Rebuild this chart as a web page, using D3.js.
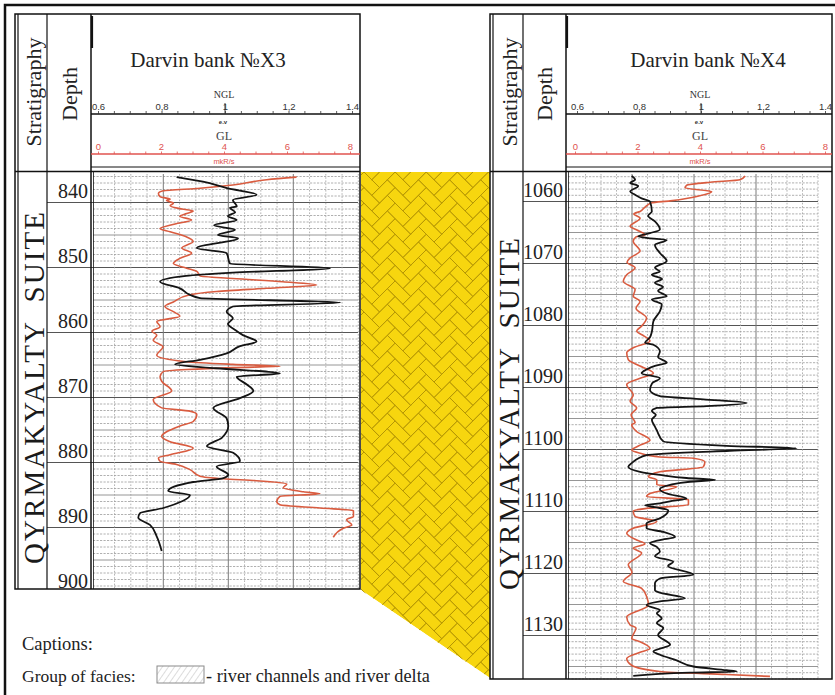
<!DOCTYPE html>
<html>
<head>
<meta charset="utf-8">
<script src="https://cdn.jsdelivr.net/npm/d3@7"></script>
<style>
  html, body { margin: 0; padding: 0; background: #fff; }
  svg { display: block; }
</style>
</head>
<body>
<svg id="chart" width="835" height="695"></svg>
<script>
// ---------------- data ----------------
// Well Darvin bank X3: NGL (conventional units) and GL (mkR/s) against depth, m
const x3Title = "Darvin bank №X3";
const x3DepthTicks = [840, 850, 860, 870, 880, 890, 900];
const x3NglDepth = [836.1,836.8,837.8,838.8,839.6,840.6,840.8,841.5,842.1,842.7,843.5,844.2,845.0,845.5,847.0,847.8,849.4,850.1,850.8,851.3,852.2,853.2,854.2,854.7,855.4,856.0,856.8,857.8,858.7,859.6,860.4,861.4,862.1,863.2,864.2,864.9,865.5,866.3,866.8,868.0,869.0,870.1,871.6,873.2,874.4,876.2,877.5,878.5,879.8,880.6,881.9,882.4,883.0,884.4,885.0,886.5,887.0,887.8,888.5,889.6,891.4,893.6];
const x3NglValue = [0.841,0.922,0.996,1.087,1.014,1.026,1.005,1.021,0.999,1.026,0.956,1.021,0.968,1.030,0.903,0.995,1.005,1.313,1.014,0.870,0.790,0.851,0.882,0.913,1.344,1.014,0.995,1.014,0.999,1.021,1.045,1.087,1.036,0.995,0.913,0.836,0.962,1.159,1.026,1.057,1.077,1.036,0.954,0.995,1.000,0.980,0.934,1.015,1.036,0.964,1.000,0.985,0.892,0.815,0.882,0.831,0.800,0.728,0.723,0.759,0.780,0.795];
const x3GlDepth = [836.1,836.5,837.3,837.8,838.2,838.6,839.1,839.5,839.7,840.1,840.5,841.0,841.3,841.7,842.1,842.7,843.3,844.0,844.5,845.3,846.0,847.0,847.8,848.6,849.4,850.1,850.6,851.3,851.7,852.2,852.7,853.2,853.7,854.2,855.3,856.0,856.8,857.5,858.3,859.1,859.8,860.4,861.2,862.2,863.5,864.5,864.9,865.2,865.4,865.7,866.0,866.8,867.5,869.0,870.3,871.6,872.1,872.6,873.7,874.4,876.0,876.8,877.8,878.8,879.3,879.8,880.3,881.1,882.1,882.5,882.8,883.3,883.9,884.5,884.8,885.2,886.0,886.5,887.0,887.4,888.3,888.8,889.6,890.1,891.5];
const x3GlValue = [6.10,5.18,4.14,3.13,2.00,1.85,1.90,2.21,2.10,2.31,2.21,2.57,2.92,2.72,2.51,2.87,2.36,1.90,2.21,2.72,2.92,2.57,2.87,2.51,2.31,2.72,3.03,3.13,4.14,5.68,6.72,5.18,3.64,2.82,2.31,2.05,2.31,2.51,1.80,1.90,1.65,1.80,1.69,1.99,1.80,2.72,4.14,5.59,4.14,2.72,2.00,1.90,1.95,2.26,1.69,1.95,2.82,3.03,2.92,2.51,1.95,2.21,2.92,2.21,1.85,1.90,2.41,2.82,3.13,3.85,4.87,5.80,5.69,6.31,6.82,5.59,5.49,5.59,6.82,7.85,7.85,7.64,7.80,7.54,7.23];

// Well Darvin bank X4
const x4Title = "Darvin bank №X4";
const x4DepthTicks = [1060, 1070, 1080, 1090, 1100, 1110, 1120, 1130];
const x4NglDepth = [1055.9,1056.5,1057.0,1057.5,1058.4,1058.9,1059.5,1060.0,1061.6,1062.3,1063.2,1064.5,1065.1,1065.6,1065.9,1066.2,1067.0,1068.3,1069.6,1070.7,1071.3,1071.8,1072.5,1073.1,1073.8,1074.4,1075.3,1075.8,1076.6,1077.7,1079.3,1081.0,1081.9,1082.8,1083.1,1084.2,1085.1,1086.0,1086.5,1087.1,1087.7,1088.5,1089.3,1090.4,1091.4,1091.9,1092.5,1093.0,1093.3,1093.8,1094.4,1095.2,1096.3,1096.9,1098.7,1099.4,1099.8,1100.2,1100.9,1102.2,1102.8,1103.6,1104.1,1104.6,1104.9,1105.2,1105.7,1106.4,1107.1,1107.9,1108.3,1108.7,1109.0,1109.3,1109.8,1111.1,1111.9,1112.7,1113.3,1114.1,1114.6,1115.1,1115.7,1116.5,1117.2,1118.1,1118.8,1120.2,1120.8,1121.6,1122.7,1123.1,1124.0,1124.5,1125.1,1125.9,1126.4,1127.2,1128.0,1128.8,1129.9,1131.5,1132.6,1133.1,1134.0,1135.0,1135.6,1135.8,1136.0,1136.5];
const x4NglValue = [0.799,0.810,0.794,0.820,0.794,0.810,0.831,0.858,0.864,0.852,0.874,0.890,0.858,0.820,0.853,0.912,0.874,0.890,0.912,0.874,0.890,0.864,0.897,0.874,0.900,0.884,0.912,0.864,0.896,0.890,0.869,0.864,0.858,0.842,0.869,0.890,0.884,0.912,0.874,0.847,0.831,0.890,0.865,0.858,0.890,1.030,1.170,1.041,0.880,0.864,0.877,0.864,0.874,0.880,0.901,1.105,1.331,1.116,0.847,0.799,0.788,0.826,0.890,0.976,1.068,0.987,0.923,0.890,0.912,0.976,0.929,0.890,0.842,0.874,0.917,0.890,0.847,0.847,0.901,0.939,0.890,0.858,0.880,0.890,0.874,0.933,0.916,0.998,0.890,0.874,0.874,0.890,0.971,0.890,0.847,0.890,0.880,0.896,0.880,0.901,0.884,0.923,0.869,0.890,0.944,0.998,1.105,1.138,0.987,0.804];
const x4GlDepth = [1055.9,1056.5,1056.9,1057.4,1057.8,1058.4,1059.3,1059.9,1060.2,1060.9,1061.6,1062.0,1062.7,1064.0,1064.6,1065.4,1065.7,1066.4,1068.0,1069.1,1069.8,1070.7,1071.8,1072.9,1074.2,1075.3,1076.1,1077.2,1078.8,1080.1,1080.9,1081.7,1082.5,1083.6,1084.4,1085.5,1086.3,1087.7,1088.5,1089.5,1091.2,1092.2,1093.3,1094.4,1095.7,1096.0,1097.1,1098.5,1099.3,1100.1,1100.6,1101.2,1101.4,1102.0,1102.8,1103.6,1104.4,1104.9,1105.7,1106.0,1107.1,1107.6,1108.1,1108.9,1109.5,1109.9,1110.8,1111.6,1112.7,1113.5,1114.6,1115.2,1115.9,1116.7,1118.6,1119.8,1121.3,1122.4,1123.7,1125.1,1127.0,1128.3,1128.8,1130.5,1131.0,1132.1,1132.7,1133.7,1134.8,1135.8,1136.3,1136.6];
const x4GlValue = [5.65,5.48,4.52,3.76,3.71,4.57,3.98,3.23,2.64,2.42,2.26,2.06,2.26,1.94,2.16,2.42,2.13,2.04,2.26,1.94,1.84,2.10,1.83,1.72,2.10,2.04,2.26,2.13,2.47,2.31,2.15,2.39,2.58,2.04,1.83,1.88,2.15,2.69,2.26,1.83,2.04,1.94,2.15,1.97,2.10,1.99,2.15,2.58,2.26,1.99,2.26,2.90,3.98,4.35,4.30,2.90,2.53,2.80,2.80,3.44,2.58,2.47,3.82,3.82,2.47,2.04,2.10,2.80,2.04,1.83,2.15,2.42,2.04,2.31,1.88,2.00,1.72,2.31,2.47,2.53,1.83,1.94,2.13,1.99,2.26,2.58,2.26,1.83,1.99,2.90,5.05,6.45];

// Scale labels shared by both tracks
const nglTickValues = [0.6, 0.8, 1.0, 1.2, 1.4];
const nglTickLabels = ["0.6", "0,8", "1", "1,2", "1.4"];
const glTickValues = [0, 2, 4, 6, 8];
const glTickLabels = ["0", "2", "4", "6", "8"];
const stratName = "QYRMAKYALTY  SUITE";

// ---------------- layout ----------------
const serif = "'Liberation Serif','Times New Roman',serif";
const sans = "'Liberation Sans',Arial,sans-serif";
const blackCurve = "#141414";
const redCurve = "#d95c40";
const redAxis = "#e0534f";

const svg = d3.select("#chart");
svg.append("rect").attr("width", 835).attr("height", 695).attr("fill", "#fff");
const defs = svg.append("defs");

const panels = [
  {
    title: x3Title, ticks: x3DepthTicks,
    ngl: { d: x3NglDepth, v: x3NglValue }, gl: { d: x3GlDepth, v: x3GlValue },
    left: 15, stratR: 47, depthR: 91, right: 360, top: 14, bodyTop: 172, bottom: 589,
    refDepth: 840, refY: 202.5, pxPerM: 6.5,
    grid: [98.3, 358.3], gridSpan: [93, 358],
    head: [98, 352], glHead: [98, 350],
    stratY: 388, headCx: 208
  },
  {
    title: x4Title, ticks: x4DepthTicks,
    ngl: { d: x4NglDepth, v: x4NglValue }, gl: { d: x4GlDepth, v: x4GlValue },
    left: 490, stratR: 523, depthR: 566, right: 832, top: 14, bodyTop: 172, bottom: 679,
    refDepth: 1060, refY: 201.5, pxPerM: 6.2,
    grid: [570, 818], gridSpan: [568, 818],
    head: [577, 825], glHead: [575, 825],
    stratY: 414, headCx: 708
  }
];

// ---------------- correlation band ----------------
const bandPts = [[361, 172], [490, 172], [490, 678], [361, 590]];
defs.append("clipPath").attr("id", "bandClip")
  .append("polygon").attr("points", bandPts.map(p => p.join(",")).join(" "));
const bandG = svg.append("g").attr("clip-path", "url(#bandClip)");
bandG.append("polygon").attr("points", bandPts.map(p => p.join(",")).join(" "))
  .attr("fill", "#f7d60f");
// herringbone bricks (2:1) laid at 45 degrees
const u = 11, th = Math.PI / 4;
const rot = ([a, b]) => [364 + u * (a * Math.cos(th) - b * Math.sin(th)),
                         172 + u * (a * Math.sin(th) + b * Math.cos(th))];
const bricks = [];
for (let j = -6; j <= 14; j++) {
  for (let k = -6; k <= 52; k++) {
    const ox = k + 2 * j, oy = k - 2 * j;
    bricks.push([[ox, oy], [ox + 2, oy], [ox + 2, oy + 1], [ox, oy + 1]]);
    bricks.push([[ox, oy + 1], [ox + 1, oy + 1], [ox + 1, oy + 3], [ox, oy + 3]]);
  }
}
bandG.selectAll("path.brick")
  .data(bricks.map(b => b.map(rot)).filter(b => {
    const cx = d3.mean(b, p => p[0]), cy = d3.mean(b, p => p[1]);
    return cx > 335 && cx < 515 && cy > 145 && cy < 705;
  }))
  .join("path").attr("class", "brick")
  .attr("d", b => "M" + b.map(p => p.join(",")).join("L") + "Z")
  .attr("fill", "none").attr("stroke", "#b39405").attr("stroke-width", 1).attr("stroke-opacity", 0.85);

// ---------------- panels ----------------
panels.forEach(P => {
  const g = svg.append("g");
  const d0 = P.refDepth - (P.refY - P.bodyTop) / P.pxPerM;
  const d1 = P.refDepth + (P.bottom - P.refY) / P.pxPerM;
  const y = d3.scaleLinear().domain([d0, d1]).range([P.bodyTop, P.bottom]);
  const xN = d3.scaleLinear().domain([0.6, 1.4]).range(P.grid);
  const xG = d3.scaleLinear().domain([0, 8]).range(P.grid);
  const xNh = d3.scaleLinear().domain([0.6, 1.4]).range(P.head);
  const xGh = d3.scaleLinear().domain([0, 8]).range(P.glHead);

  // --- grid: depth lines
  const grid = g.append("g");
  const metres = d3.range(Math.ceil(d0), Math.floor(d1) + 1);
  grid.selectAll("line.m1").data(metres.filter(m => m % 5 !== 0)).join("line")
    .attr("x1", P.gridSpan[0]).attr("x2", P.gridSpan[1])
    .attr("y1", d => y(d)).attr("y2", d => y(d))
    .attr("stroke", "#9c9c9c").attr("stroke-width", 0.8).attr("stroke-dasharray", "2.2,1.3");
  grid.selectAll("line.m5").data(metres.filter(m => m % 5 === 0 && m % 10 !== 0)).join("line")
    .attr("x1", P.gridSpan[0]).attr("x2", P.gridSpan[1])
    .attr("y1", d => y(d)).attr("y2", d => y(d))
    .attr("stroke", "#8a8a8a").attr("stroke-width", 0.9);
  grid.selectAll("line.m10").data(metres.filter(m => m % 10 === 0)).join("line")
    .attr("x1", P.stratR).attr("x2", P.gridSpan[1])
    .attr("y1", d => y(d)).attr("y2", d => y(d))
    .attr("stroke", "#555").attr("stroke-width", 1);

  // --- grid: value lines
  const vals = d3.range(0.65, 1.4001, 0.05).map(v => +v.toFixed(2));
  grid.selectAll("line.vminor").data(vals.filter(v => ![0.8, 1.0, 1.2].includes(v))).join("line")
    .attr("x1", d => xN(d)).attr("x2", d => xN(d))
    .attr("y1", P.bodyTop + 2).attr("y2", P.bottom - 1)
    .attr("stroke", "#a0a0a0").attr("stroke-width", 0.8).attr("stroke-dasharray", "1.6,1.6");
  grid.selectAll("line.vmajor").data([0.8, 1.0, 1.2]).join("line")
    .attr("x1", d => xN(d)).attr("x2", d => xN(d))
    .attr("y1", P.bodyTop + 2).attr("y2", P.bottom - 1)
    .attr("stroke", "#7a7a7a").attr("stroke-width", 1);

  // --- curves
  const glPts = P.gl.d.map((d, i) => [d, P.gl.v[i]]);
  const nglPts = P.ngl.d.map((d, i) => [d, P.ngl.v[i]]);
  g.append("path").datum(glPts)
    .attr("d", d3.line().x(p => xG(p[1])).y(p => y(p[0])).curve(d3.curveMonotoneY))
    .attr("fill", "none").attr("stroke", redCurve).attr("stroke-width", 1.6);
  g.append("path").datum(nglPts)
    .attr("d", d3.line().x(p => xN(p[1])).y(p => y(p[0])).curve(d3.curveMonotoneY))
    .attr("fill", "none").attr("stroke", blackCurve).attr("stroke-width", 1.8);

  // --- frame
  const fr = g.append("g").attr("fill", "none").attr("stroke", "#111");
  fr.append("rect").attr("x", P.left).attr("y", P.top)
    .attr("width", P.right - P.left).attr("height", P.bottom - P.top).attr("stroke-width", 1.5);
  fr.append("line").attr("x1", P.left + 3).attr("x2", P.left + 3).attr("y1", P.top).attr("y2", P.bottom).attr("stroke-width", 1.2);
  fr.append("line").attr("x1", P.stratR).attr("x2", P.stratR).attr("y1", P.top).attr("y2", P.bottom).attr("stroke-width", 1.2);
  fr.append("line").attr("x1", P.depthR).attr("x2", P.depthR).attr("y1", P.top).attr("y2", P.bottom).attr("stroke-width", 1.5);
  fr.append("line").attr("x1", P.depthR + 2.5).attr("x2", P.depthR + 2.5).attr("y1", P.bodyTop).attr("y2", P.bottom).attr("stroke-width", 0.8);
  fr.append("line").attr("x1", P.depthR + 1).attr("x2", P.depthR + 1).attr("y1", P.top + 2).attr("y2", P.top + 34).attr("stroke-width", 2.2);
  fr.append("line").attr("x1", P.left).attr("x2", P.right).attr("y1", P.bodyTop - 0.5).attr("y2", P.bodyTop - 0.5).attr("stroke-width", 1.4);
  fr.append("line").attr("x1", P.depthR).attr("x2", P.right).attr("y1", 167).attr("y2", 167).attr("stroke-width", 1);

  // --- header: NGL scale
  const hx = P.headCx;
  g.append("text").attr("x", hx).attr("y", 67).attr("text-anchor", "middle")
    .attr("font-family", serif).attr("font-size", 21).attr("fill", "#222").text(P.title);
  g.append("line").attr("x1", P.depthR).attr("x2", P.right).attr("y1", 114).attr("y2", 114)
    .attr("stroke", "#111").attr("stroke-width", 1.6);
  const nglAxis = d3.axisTop(xNh).tickValues(d3.range(0.6, 1.4001, 0.05).map(v => +v.toFixed(2)))
    .tickSize(3).tickFormat(v => {
      const i = nglTickValues.findIndex(t => Math.abs(t - v) < 1e-6);
      return i >= 0 ? nglTickLabels[i] : "";
    });
  const na = g.append("g").attr("transform", "translate(0,114)").call(nglAxis);
  na.select(".domain").remove();
  na.selectAll(".tick line").attr("stroke", "#333").attr("stroke-width", 0.8);
  na.selectAll(".tick text").attr("font-family", sans).attr("font-size", 9.5).attr("fill", "#333").attr("dy", "0.2em");
  g.append("line").attr("x1", xNh(1)).attr("x2", xNh(1)).attr("y1", 103).attr("y2", 114).attr("stroke", "#333").attr("stroke-width", 0.9);
  g.append("text").attr("x", xNh(1) - 1).attr("y", 98).attr("text-anchor", "middle")
    .attr("font-family", serif).attr("font-size", 10).attr("fill", "#333").text("NGL");
  g.append("text").attr("x", xNh(1) - 2).attr("y", 124).attr("text-anchor", "middle")
    .attr("font-family", sans).attr("font-weight", "bold").attr("font-size", 6).attr("fill", "#333").text("e.v");

  // --- header: GL scale
  g.append("text").attr("x", xNh(1) - 1).attr("y", 140).attr("text-anchor", "middle")
    .attr("font-family", serif).attr("font-size", 12).attr("fill", "#444").text("GL");
  g.append("line").attr("x1", P.depthR).attr("x2", P.right).attr("y1", 154).attr("y2", 154)
    .attr("stroke", redAxis).attr("stroke-width", 1.5);
  const glAxis = d3.axisTop(xGh).tickValues(d3.range(0, 8.01, 0.5)).tickSize(2.5)
    .tickFormat(v => {
      const i = glTickValues.indexOf(v);
      return i >= 0 ? glTickLabels[i] : "";
    });
  const ga = g.append("g").attr("transform", "translate(0,154)").call(glAxis);
  ga.select(".domain").remove();
  ga.selectAll(".tick line").attr("stroke", redAxis).attr("stroke-width", 0.8);
  ga.selectAll(".tick text").attr("font-family", sans).attr("font-size", 9.5).attr("fill", redAxis).attr("dy", "0.2em");
  g.append("text").attr("x", xGh(4)).attr("y", 164).attr("text-anchor", "middle")
    .attr("font-family", sans).attr("font-size", 7.5).attr("fill", redAxis).text("mkR/s");

  // --- column captions
  const sx = (P.left + 3 + P.stratR) / 2, dx = (P.stratR + P.depthR) / 2;
  g.append("text").attr("transform", `translate(${sx + 1},92) rotate(-90)`)
    .attr("text-anchor", "middle").attr("dominant-baseline", "central")
    .attr("font-family", serif).attr("font-size", 22).attr("fill", "#222").text("Stratigraphy");
  g.append("text").attr("transform", `translate(${dx},94) rotate(-90)`)
    .attr("text-anchor", "middle").attr("dominant-baseline", "central")
    .attr("font-family", serif).attr("font-size", 22).attr("fill", "#222").text("Depth");
  g.append("text").attr("transform", `translate(${sx + 1},${P.stratY}) rotate(-90)`)
    .attr("text-anchor", "middle").attr("dominant-baseline", "central")
    .attr("font-family", serif).attr("font-size", 29).attr("fill", "#1a1a1a")
    .attr("textLength", 352).attr("lengthAdjust", "spacing")
    .style("white-space", "pre").text(stratName);

  // --- depth labels
  g.selectAll("text.depth").data(P.ticks).join("text").attr("class", "depth")
    .attr("x", P.depthR - 3).attr("y", d => Math.min(y(d) - 4.5, P.bottom - 1))
    .attr("text-anchor", "end").attr("font-family", serif).attr("font-size", 20).attr("fill", "#222")
    .text(d => d);
});

// ---------------- outer frame ----------------
svg.append("path").attr("d", "M5,695 V5 H835").attr("fill", "none").attr("stroke", "#111").attr("stroke-width", 2.5);

// ---------------- captions ----------------
const cap = svg.append("g").attr("font-family", serif).attr("fill", "#222");
cap.append("text").attr("x", 22).attr("y", 650).attr("font-size", 18.5).text("Captions:");
cap.append("text").attr("x", 22).attr("y", 682).attr("font-size", 17.5).text("Group of facies:");
const hatch = defs.append("pattern").attr("id", "hatch").attr("patternUnits", "userSpaceOnUse")
  .attr("width", 5).attr("height", 5).attr("patternTransform", "rotate(35)");
hatch.append("line").attr("x1", 0).attr("y1", 0).attr("x2", 0).attr("y2", 5)
  .attr("stroke", "#9a9a9a").attr("stroke-width", 0.7);
svg.append("rect").attr("x", 157).attr("y", 666).attr("width", 47).attr("height", 17)
  .attr("fill", "url(#hatch)").attr("stroke", "#8a8a8a").attr("stroke-width", 1);
cap.append("text").attr("x", 206).attr("y", 682).attr("font-size", 18.3).text("- river channels and river delta");
</script>
</body>
</html>
